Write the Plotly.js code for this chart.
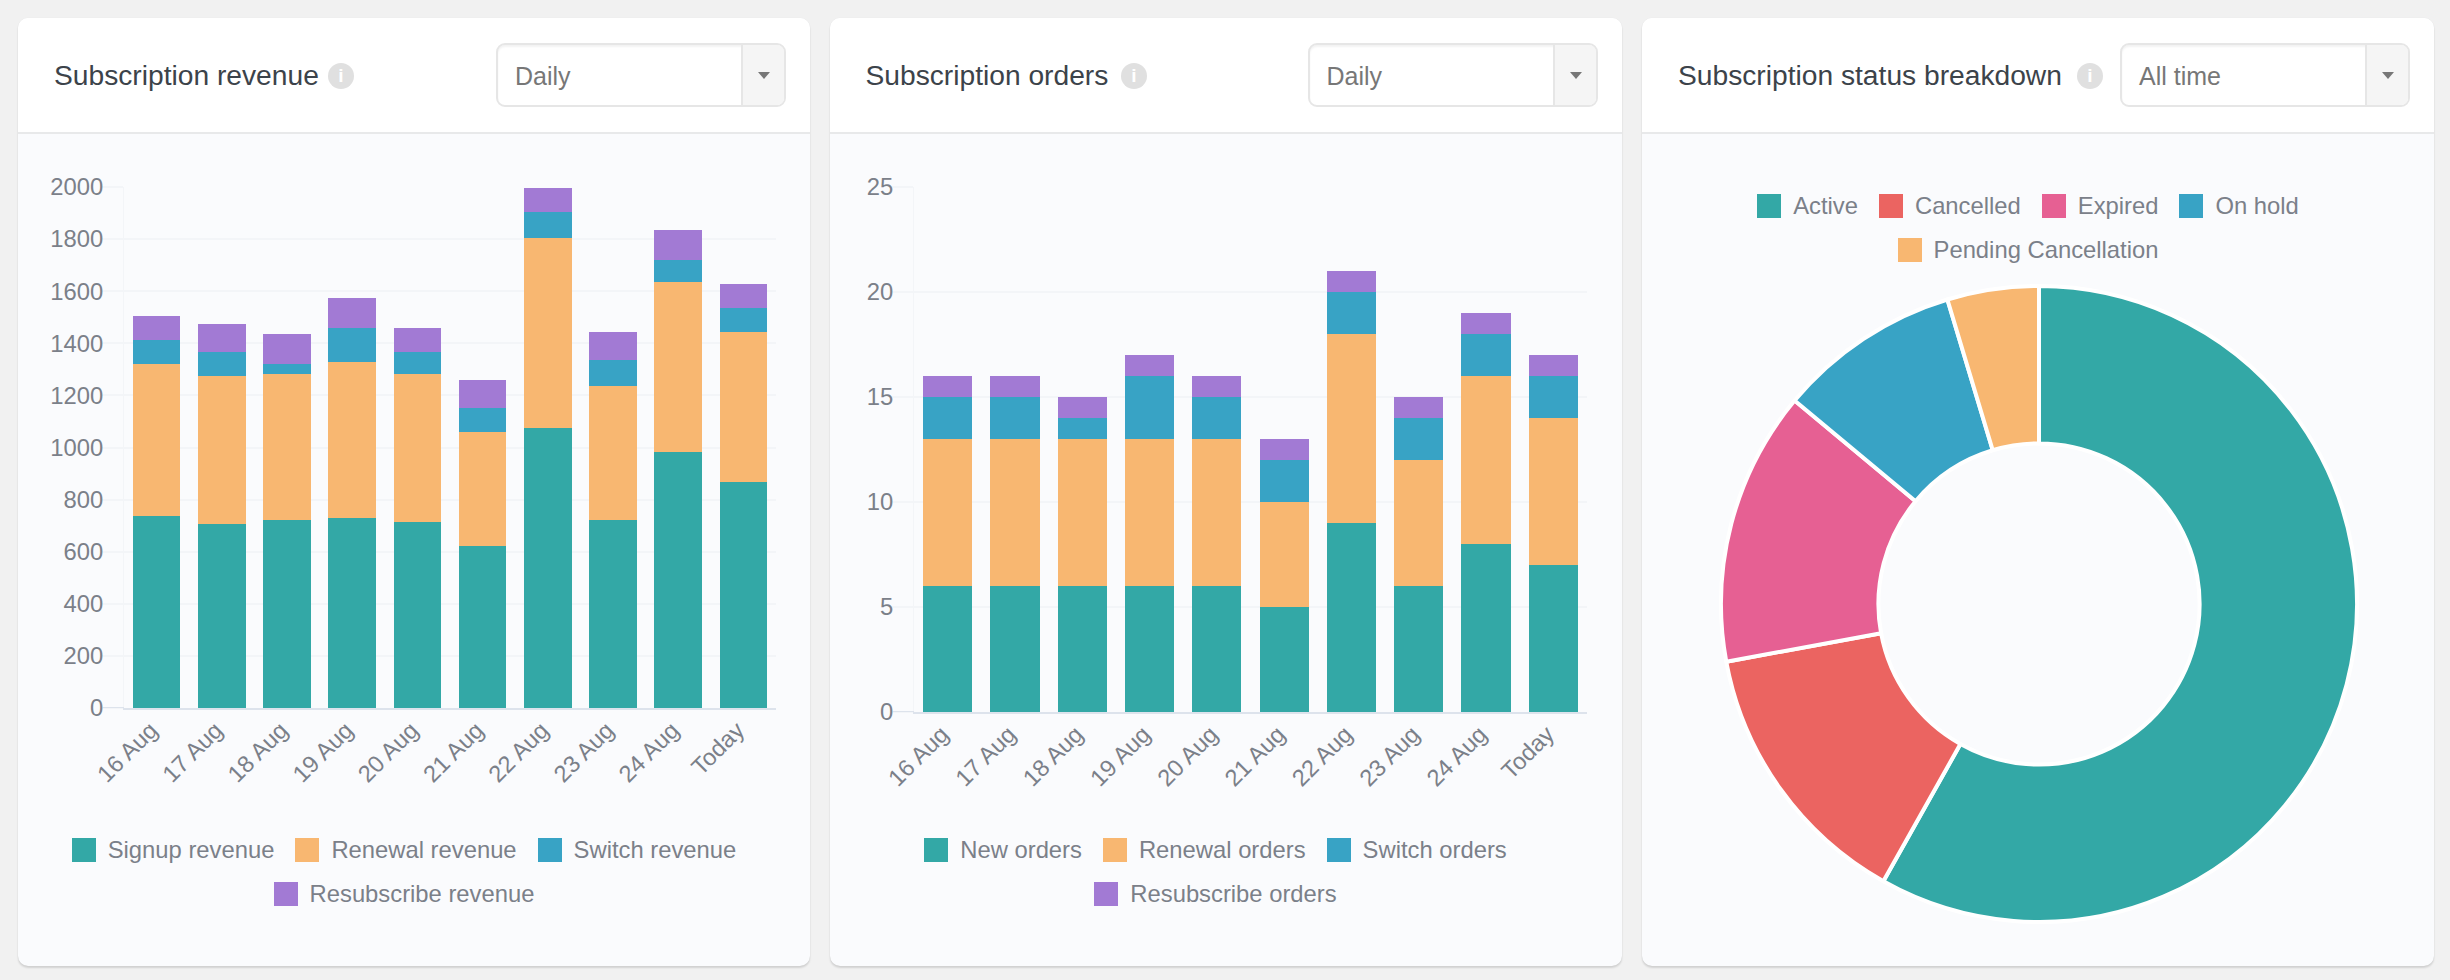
<!DOCTYPE html>
<html><head><meta charset="utf-8">
<script src="https://cdn.plot.ly/plotly-3.0.1.min.js"></script>
<style>
html,body{margin:0;padding:0;background:#f1f1f1;width:2450px;height:980px;overflow:hidden;font-family:"Liberation Sans",Arial,sans-serif}
.card{position:absolute;top:18px;width:792px;height:948px;background:#fafbfd;border-radius:10px;box-shadow:0 2px 2px rgba(0,0,0,.13),0 0 1px rgba(0,0,0,.1);overflow:hidden}
.head{position:absolute;left:0;top:0;width:100%;height:114px;background:#fff;border-bottom:2px solid #e8e9ea}
.title{position:absolute;left:36px;top:0;line-height:114px;height:114px;font-size:28.2px;color:#3c434a;white-space:nowrap}
.info{position:absolute;top:44.5px;width:26px;height:26px;border-radius:50%;background:#e0e0e0;color:#fff;font-size:19px;line-height:26px;text-align:center;font-weight:bold}
.dd{position:absolute;left:478px;top:25px;width:286px;height:60px;border:2px solid #e6e6e6;border-radius:9px;background:#fff;overflow:hidden;box-shadow:inset 0 2px 2px rgba(0,0,0,.05)}
.dd .v{position:absolute;left:17px;top:1px;line-height:60px;font-size:25px;color:#777}
.dd .b{position:absolute;right:0;top:0;width:41px;height:60px;background:#f5f5f5;border-left:2px solid #e6e6e6}
.dd .b i{position:absolute;left:15px;top:27px;width:0;height:0;border-left:6px solid transparent;border-right:6px solid transparent;border-top:7px solid #777}
.plot{position:absolute;left:0;top:0;width:792px;height:948px}
.legend{position:absolute;left:36px;width:700px;display:flex;flex-wrap:wrap;justify-content:center;font-size:23.8px;color:#7b8089}
.legend .it{display:flex;align-items:center;height:44px;margin:0 10.5px;white-space:nowrap}
.legend .sw{width:24px;height:24px;margin-right:12px}
</style></head><body>
<div id="root"></div>
<script>
const days = ['16 Aug','17 Aug','18 Aug','19 Aug','20 Aug','21 Aug','22 Aug','23 Aug','24 Aug','Today'];
const signupRevenue = [738,707,722,730,714,623,1075,722,983,868];
const renewalRevenue = [583,568,561,598,569,437,729,515,652,575];
const switchRevenue = [93,93,39,132,85,93,100,100,85,93];
const resubRevenue = [92,107,115,115,92,107,92,107,115,92];
const newOrders = [6,6,6,6,6,5,9,6,8,7];
const renewalOrders = [7,7,7,7,7,5,9,6,8,7];
const switchOrders = [2,2,1,3,2,2,2,2,2,2];
const resubOrders = [1,1,1,1,1,1,1,1,1,1];
const statusLabels = ['Active','Cancelled','Expired','On hold','Pending Cancellation'];
const statusValues = [25,6,6,4,2];
const revenueNames = ['Signup revenue','Renewal revenue','Switch revenue','Resubscribe revenue'];
const orderNames = ['New orders','Renewal orders','Switch orders','Resubscribe orders'];

const TEAL='#33a8a6',ORANGE='#f8b771',BLUE='#38a3c5',PURPLE='#a27ad4',RED='#eb6461',PINK='#e66093';
const barColors=[TEAL,ORANGE,BLUE,PURPLE];
const pieColors=[TEAL,RED,PINK,BLUE,ORANGE];
const GRID='#f3f5f8',AXIS='#dde3ec',TICK='#7b8089';
const FONT='"Liberation Sans",Arial,sans-serif';

function card(left,title,infoX,sel,legendTop,names,colors){
  const c=document.createElement('div');c.className='card';c.style.left=left+'px';
  c.innerHTML=`<div class="head"><div class="title">${title}</div><div class="info" style="left:${infoX-13}px">i</div>
  <div class="dd"><div class="v">${sel}</div><div class="b"><i></i></div></div></div><div class="plot"></div>`;
  const lg=document.createElement('div');lg.className='legend';lg.style.top=legendTop+'px';
  names.forEach((n,i)=>{const it=document.createElement('div');it.className='it';
    const s=document.createElement('span');s.className='sw';s.style.background=colors[i];
    const t=document.createElement('span');t.textContent=n;it.append(s,t);lg.append(it);});
  c.append(lg);document.getElementById('root').append(c);
  return c.querySelector('.plot');
}
function barChart(el,names,series,dtick,ymax,m){
  const traces=series.map((v,i)=>({type:'bar',name:names[i],x:days,y:v,marker:{color:barColors[i],line:{width:0}}}));
  const w=792-m.l-m.r;
  Plotly.newPlot(el,traces,{
    width:792,height:948,margin:{l:m.l,r:m.r,t:m.t,b:m.b,pad:0},
    paper_bgcolor:'rgba(0,0,0,0)',plot_bgcolor:'rgba(0,0,0,0)',
    barmode:'stack',bargap:0.27,showlegend:false,
    font:{family:FONT,size:23.4,color:TICK},
    xaxis:{type:'category',tickangle:-45,showgrid:false,zeroline:false,showline:true,linecolor:AXIS,linewidth:2,ticks:'',
      tickfont:{family:FONT,size:23.6,color:TICK},ticklabelshift:-6,ticklabelstandoff:-3,automargin:false,fixedrange:true},
    yaxis:{range:[0,ymax],dtick:dtick,tick0:0,showgrid:true,gridcolor:GRID,gridwidth:2,zeroline:false,
      showline:true,linecolor:GRID,linewidth:1,ticks:'outside',ticklen:21,tickwidth:2,tickcolor:GRID,
      tickfont:{family:FONT,size:23.8,color:TICK},ticklabelstandoff:-6,automargin:false,fixedrange:true},
    shapes:[{type:'line',xref:'paper',yref:'y',x0:-21/w,x1:0,y0:0,y1:0,line:{color:AXIS,width:2}}]
  },{staticPlot:true,displayModeBar:false});
}
const p1=card(18,'Subscription revenue',323,'Daily',810,revenueNames,barColors);
barChart(p1,revenueNames,[signupRevenue,renewalRevenue,switchRevenue,resubRevenue],200,2000,{l:106,r:34,t:169,b:258});
const p2=card(829.5,'Subscription orders',304.5,'Daily',810,orderNames,barColors);
barChart(p2,orderNames,[newOrders,renewalOrders,switchOrders,resubOrders],5,25,{l:84,r:35,t:169,b:254});
const p3=card(1642,'Subscription status breakdown',448,'All time',166,statusLabels,pieColors);
Plotly.newPlot(p3,[{type:'pie',labels:statusLabels,values:statusValues,hole:0.505,sort:false,direction:'clockwise',rotation:0,
  textinfo:'none',marker:{colors:pieColors,line:{color:'#ffffff',width:4}}}],{
  width:792,height:948,margin:{l:79,r:77,t:268,b:44,pad:0},paper_bgcolor:'rgba(0,0,0,0)',showlegend:false,
  font:{family:FONT,size:23.4,color:TICK}},{staticPlot:true,displayModeBar:false});
</script>
</body></html>
